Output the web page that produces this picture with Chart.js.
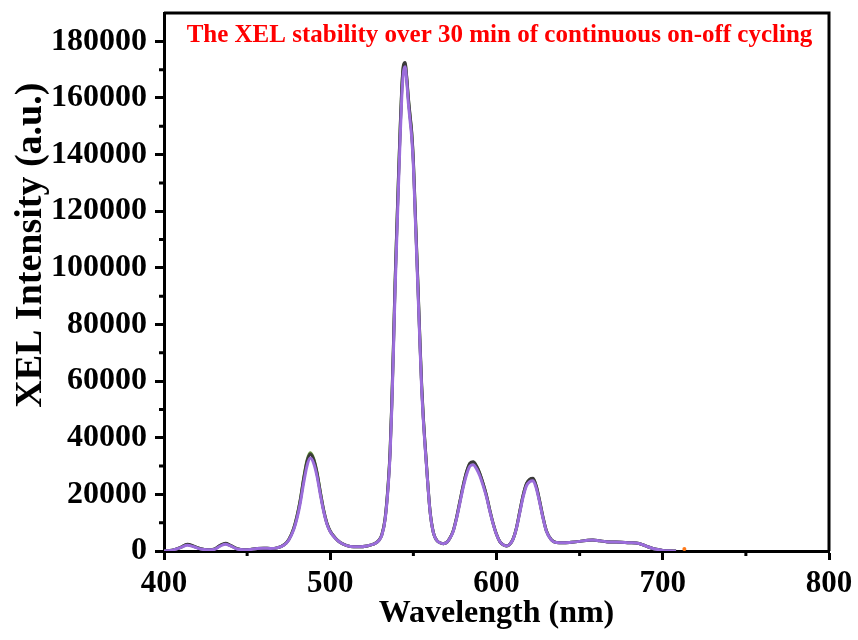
<!DOCTYPE html>
<html>
<head>
<meta charset="utf-8">
<script src="https://cdn.jsdelivr.net/npm/chart.js@4.4.1/dist/chart.umd.min.js"></script>
<style>
    html, body { margin: 0; padding: 0; background: #fff; }
    #wrap { width: 858px; height: 640px; }
</style>
</head>
<body>
<div id="wrap"><canvas id="xelChart"></canvas></div>
<script>
// wavelength (nm)
const wavelength = [
    400, 405, 410, 414, 418, 422, 426, 430, 434, 437,
    440, 444, 448, 452, 456, 460, 464, 468, 472, 475,
    478, 480, 482, 484, 486, 488, 490, 492, 494, 496,
    498, 500, 503, 506, 510, 514, 518, 522, 526, 529,
    531, 533, 535, 536, 537, 538, 539, 540, 541, 542,
    543, 544, 545, 546, 547, 548, 549, 550, 551, 552,
    553, 554, 555, 556, 557, 558, 560, 562, 564, 566,
    568, 570, 572, 574, 576, 578, 580, 582, 584, 586,
    588, 590, 592, 594, 596, 598, 600, 602, 604, 606,
    608, 610, 612, 614, 616, 618, 620, 622, 624, 626,
    628, 630, 633, 636, 640, 645, 650, 655, 658, 662,
    666, 670, 675, 680, 684, 688, 691, 694, 697, 700,
    704, 708
]

// spectra recorded during the on-off cycling
const scanPurple = [
    0, 300, 1200, 2000, 1500, 700, 400, 500, 1800, 2400,
    1800, 700, 400, 500, 900, 1000, 900, 1100, 2000, 3800,
    7500, 11500, 17000, 24000, 30000, 32800, 31000, 26500, 20000, 14000,
    9500, 6800, 4500, 3000, 1900, 1500, 1500, 1800, 2400, 3500,
    5500, 11000, 24000, 34000, 50000, 70000, 92000, 110000, 128000, 145000,
    160000, 169000, 171000, 166000, 158000, 152000, 146000, 136000, 120000, 104000,
    88000, 72000, 57000, 46000, 37000, 29000, 14000, 6500, 3800, 2900,
    2600, 3000, 4500, 7000, 11500, 17000, 22500, 27000, 30000, 30500,
    29000, 26500, 23000, 19000, 14000, 9500, 5800, 3300, 2200, 1800,
    2400, 4200, 8000, 13500, 19000, 23000, 24500, 24800, 22000, 17000,
    11500, 7000, 3900, 3000, 2900, 3100, 3400, 3800, 3900, 3600,
    3300, 3200, 3100, 2900, 2800, 2200, 1500, 900, 500, 200,
    50, 0
]

const scanBlack = [
    0, 300, 1300, 2400, 1700, 800, 400, 600, 2100, 2700,
    2000, 800, 400, 500, 900, 1000, 900, 1100, 2100, 4000,
    7900, 12200, 18000, 25300, 31500, 34200, 32300, 27600, 20800, 14500,
    9800, 7000, 4600, 3000, 1900, 1500, 1500, 1800, 2400, 3600,
    5700, 11500, 25000, 35500, 52000, 72500, 95000, 113500, 131500, 148500,
    163500, 171500, 172500, 167500, 160000, 154000, 148000, 138000, 122000, 106000,
    90000, 73500, 58500, 47000, 38000, 29500, 14300, 6600, 3800, 2900,
    2600, 3000, 4600, 7200, 11900, 17600, 23300, 28000, 31000, 31500,
    30000, 27400, 23800, 19600, 14400, 9700, 5900, 3300, 2200, 1800,
    2400, 4300, 8200, 14000, 19700, 23800, 25400, 25700, 22800, 17600,
    11900, 7200, 4000, 3000, 2900, 3100, 3400, 3800, 3900, 3600,
    3300, 3200, 3100, 2900, 2800, 2200, 1500, 900, 500, 200,
    50, 0
]

const scanGreen = [
    0, 300, 1300, 2300, 1600, 800, 400, 600, 2000, 2600,
    1900, 800, 400, 500, 900, 1000, 900, 1100, 2100, 4000,
    8000, 12400, 18300, 25700, 32000, 34700, 32700, 27900, 21000, 14600,
    9800, 7000, 4600, 3000, 1900, 1500, 1500, 1800, 2400, 3600,
    5700, 11400, 24800, 35200, 51500, 72000, 94500, 113000, 131000, 148000,
    163000, 171000, 172000, 167000, 159500, 153500, 147500, 137500, 121500, 105500,
    89500, 73000, 58000, 46800, 37800, 29400, 14200, 6600, 3800, 2900,
    2600, 3000, 4600, 7200, 11800, 17500, 23200, 27900, 30800, 31300,
    29800, 27200, 23600, 19500, 14300, 9700, 5900, 3300, 2200, 1800,
    2400, 4300, 8100, 13900, 19600, 23600, 25200, 25500, 22600, 17400,
    11800, 7100, 4000, 3000, 2900, 3100, 3400, 3800, 3900, 3600,
    3300, 3200, 3100, 2900, 2800, 2200, 1500, 900, 500, 200,
    50, 0
]

const strayWavelength = [713]
const strayValue = [700]

const xTicks = [400, 500, 600, 700, 800]
const yTicks = [0, 20000, 40000, 60000, 80000, 100000, 120000, 140000, 160000, 180000]
const xMinorTicks = [450, 550, 650, 750]
const yMinorTicks = [10000, 30000, 50000, 70000, 90000, 110000, 130000, 150000, 170000]
const noteText = 'The XEL stability over 30 min of continuous on-off cycling'
const yTitle = 'XEL Intensity (a.u.)'

const serif = "'Liberation Serif', 'Times New Roman', serif"
const toPoints = (xs, ys) => xs.map((x, i) => ({ x: x, y: ys[i] }))

const line = (label, values, color) => ({
    label: label,
    data: toPoints(wavelength, values),
    borderColor: color,
    backgroundColor: color,
    borderWidth: 3,
    pointRadius: 0,
    cubicInterpolationMode: 'monotone',
    fill: false
})

// frame, minor ticks, y title and the red note
const framePlugin = {
    id: 'frame',
    afterDraw(chart) {
        const { ctx, chartArea: a, scales } = chart
        ctx.save()
        ctx.strokeStyle = '#000'
        ctx.lineWidth = 3
        ctx.beginPath()
        ctx.moveTo(a.left, a.top)
        ctx.lineTo(a.right, a.top)
        ctx.lineTo(a.right, a.bottom)
        ctx.stroke()

        ctx.beginPath()
        xMinorTicks.forEach(v => {
            const px = scales.x.getPixelForValue(v)
            ctx.moveTo(px, a.bottom)
            ctx.lineTo(px, a.bottom + 5)
        })
        yMinorTicks.forEach(v => {
            const py = scales.y.getPixelForValue(v)
            ctx.moveTo(a.left, py)
            ctx.lineTo(a.left - 5, py)
        })
        ctx.stroke()

        ctx.fillStyle = '#ff0000'
        ctx.font = `bold 25px ${serif}`
        ctx.textAlign = 'center'
        ctx.textBaseline = 'middle'
        ctx.fillText(noteText, (a.left + a.right) / 2 + 3, a.top + 23)

        // y title sits a bit above the middle of the axis
        ctx.fillStyle = '#000'
        ctx.font = `bold 38px ${serif}`
        ctx.translate(31, scales.y.getPixelForValue(108000))
        ctx.rotate(-Math.PI / 2)
        ctx.fillText(yTitle, 0, 0)
        ctx.restore()
    }
}

const config = {
    type: 'line',
    data: {
        datasets: [
            line('Purple', scanPurple, '#9b6ddb'),
            line('Black', scanBlack, '#3a3a3a'),
            line('Green', scanGreen, '#5d8a35'),
            {
                label: 'Stray',
                data: toPoints(strayWavelength, strayValue),
                showLine: false,
                pointRadius: 2,
                pointBackgroundColor: '#ff7a1a',
                pointBorderWidth: 0
            }
        ]
    },
    options: {
        responsive: true,
        maintainAspectRatio: false,
        animation: false,
        layout: {
            padding: { left: 0, right: 29, top: 13, bottom: 0 }
        },
        scales: {
            x: {
                type: 'linear',
                min: 400,
                max: 800,
                afterFit: (scale) => {
                    scale.height = 89
                    scale.paddingLeft = 0
                    scale.paddingRight = 0
                },
                afterBuildTicks: (scale) => { scale.ticks = xTicks.map(v => ({ value: v })) },
                grid: {
                    display: true,
                    drawOnChartArea: false,
                    drawTicks: true,
                    tickLength: 9,
                    tickWidth: 3,
                    tickColor: '#000'
                },
                border: { display: true, color: '#000', width: 3 },
                ticks: {
                    color: '#000',
                    padding: 5,
                    maxRotation: 0,
                    autoSkip: false,
                    font: { family: serif, size: 31, weight: 'bold' }
                },
                title: {
                    display: true,
                    text: 'Wavelength (nm)',
                    color: '#000',
                    padding: { top: 0, bottom: 7 },
                    font: { family: serif, size: 32, weight: 'bold' }
                }
            },
            y: {
                min: 0,
                max: 190000,
                afterFit: (scale) => {
                    scale.width = 164
                    scale.paddingTop = 0
                    scale.paddingBottom = 0
                },
                afterBuildTicks: (scale) => { scale.ticks = yTicks.map(v => ({ value: v })) },
                grid: {
                    display: true,
                    drawOnChartArea: false,
                    drawTicks: true,
                    tickLength: 9,
                    tickWidth: 3,
                    tickColor: '#000'
                },
                border: { display: true, color: '#000', width: 3 },
                ticks: {
                    color: '#000',
                    padding: 8,
                    autoSkip: false,
                    callback: (value) => String(value),
                    font: { family: serif, size: 32, weight: 'bold' }
                }
            }
        },
        plugins: {
            legend: { display: false },
            tooltip: { enabled: false }
        }
    },
    plugins: [framePlugin]
}

const ctx = document.getElementById('xelChart').getContext('2d')
const xelChart = new Chart(ctx, config)
</script>
</body>
</html>
